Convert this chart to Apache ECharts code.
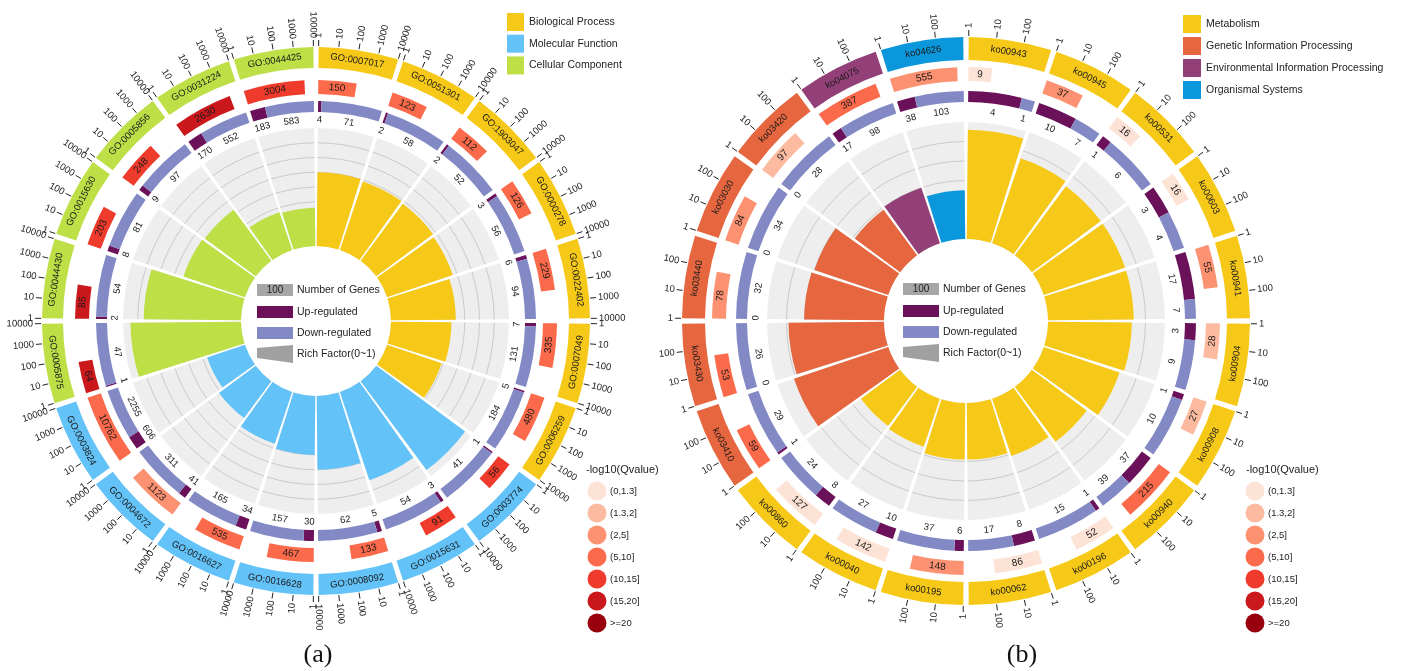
<!DOCTYPE html>
<html>
<head>
<meta charset="utf-8">
<title>GO / KEGG enrichment circle plots</title>
<script src="https://cdn.jsdelivr.net/npm/echarts@6/dist/echarts.min.js"></script>
<style>
  html, body { margin: 0; padding: 0; background: #ffffff; }
  #chart { width: 1406px; height: 671px; }
</style>
</head>
<body>
<div id="chart"></div>
<script>
// ---------- (a) GO enrichment ----------
const goTerms = ['GO:0007017','GO:0051301','GO:1903047','GO:0000278','GO:0022402','GO:0007049','GO:0006259',
                 'GO:0003774','GO:0015631','GO:0008092','GO:0016628','GO:0016627','GO:0004672','GO:0003824',
                 'GO:0005875','GO:0044430','GO:0015630','GO:0005856','GO:0031224','GO:0044425'];
const goClass = [0,0,0,0,0,0,0, 1,1,1,1,1,1,1, 2,2,2,2,2,2];
const goBackground = [150,123,112,126,229,335,480, 56,91,133,467,535,1123,10762, 64,85,203,248,2630,3004];
const goQLevel = [3,3,3,3,3,3,3, 4,4,3,3,3,2,3, 5,5,4,4,5,4];
const goUp = [4,2,2,3,6,7,5, 1,3,5,30,34,41,606, 1,2,8,9,170,183];
const goDown = [71,58,52,56,94,131,184, 41,54,62,157,165,311,2255, 47,54,81,97,552,583];
const goRich = [0.50,0.49,0.48,0.47,0.44,0.41,0.39, 0.75,0.63,0.50,0.40,0.37,0.31,0.27, 0.75,0.66,0.44,0.43,0.27,0.26];
const goTickLabels = ['1','10','100','1000','10000'];
const goClassNames = ['Biological Process','Molecular Function','Cellular Component'];

// ---------- (b) KEGG enrichment ----------
const koTerms = ['ko00943','ko00945','ko00531','ko00603','ko00941','ko00904','ko00908','ko00940','ko00196','ko00062',
                 'ko00195','ko00040','ko00860','ko03410','ko03430','ko03440','ko03030','ko03420','ko04075','ko04626'];
const koClass = [0,0,0,0,0,0,0,0,0,0,0,0,0, 1,1,1,1,1, 2, 3];
const koBackground = [9,37,16,16,55,28,27,215,52,86,148,142,127, 59,53,78,84,97, 387, 555];
const koQLevel = [0,2,0,0,2,1,1,3,0,0,2,0,0, 3,3,2,2,1, 3, 2];
const koUp = [4,10,1,3,17,3,1,37,1,8,6,10,8, 1,0,0,0,0, 17, 38];
const koDown = [1,7,6,4,7,9,10,39,15,17,37,27,24, 29,26,32,34,28, 98, 103];
const koRich = [0.56,0.46,0.44,0.44,0.44,0.43,0.41,0.35,0.31,0.29,0.29,0.26,0.25, 0.51,0.49,0.41,0.40,0.29, 0.30, 0.25];
const koTickLabels = ['1','10','100'];
const koClassNames = ['Metabolism','Genetic Information Processing','Environmental Information Processing','Organismal Systems'];

// ---------- shared legend scales ----------
const qLevelLabels = ['(0,1.3]','(1.3,2]','(2,5]','(5,10]','(10,15]','(15,20]','>=20'];
const centerLegendLabels = ['Number of Genes','Up-regulated','Down-regulated','Rich Factor(0~1)'];

// ---------- colours ----------
const goClassColors = ['#F6C918','#63C2F7','#BEDF46'];
const koClassColors = ['#F6C918','#E5663F','#924077','#0A97DB'];
const qColors = ['#FDE2D6','#FCBBA1','#FC9272','#FB6A4A','#EF3B2C','#CB181D','#99000D'];
const UP_COLOR = '#6A1159';
const DOWN_COLOR = '#8389C5';
const TRACK_BG = '#EEEEEE';
const GRID_COLOR = '#CACACA';
const FONT = 'Liberation Sans';

// Layout of each circle (pixels are styling, values go through the polar axes)
const panels = [
  {
    center: [316, 321], inner: 75, outer: 193, richMax: 0.8, grid: [0.1,0.2,0.3,0.4,0.5,0.6,0.7],
    terms: goTerms, cls: goClass, classColors: goClassColors, bg: goBackground, q: goQLevel,
    up: goUp, down: goDown, rich: goRich, logMax: 4, ticks: goTickLabels,
    band: [253, 274], red: [227, 241], ring: [209, 220], ringLabel: 201
  },
  {
    center: [966, 321], inner: 82, outer: 199, richMax: 0.6, grid: [0.1,0.2,0.3,0.4,0.5],
    terms: koTerms, cls: koClass, classColors: koClassColors, bg: koBackground, q: koQLevel,
    up: koUp, down: koDown, rich: koRich, logMax: 3, ticks: koTickLabels,
    band: [261, 284], red: [240, 254], ring: [219, 230], ringLabel: 210
  }
];

const HALF_GAP = 0.55 / 18;          // half of the gap between sectors, in sector units
function pos(i, f) { return i + HALF_GAP + f * (1 - 2 * HALF_GAP); }

function sect(api, cs, rv0, rv1, a0, a1) {
  const p0 = api.coord([rv0, a0]);
  const p1 = api.coord([rv1, a1]);
  const c0 = -p0[3], c1 = -p1[3];
  return {
    cx: cs.cx, cy: cs.cy,
    r0: Math.min(p0[2], p1[2]), r: Math.max(p0[2], p1[2]),
    startAngle: Math.min(c0, c1), endAngle: Math.max(c0, c1), clockwise: true
  };
}
function theta(m) {
  const t = Math.PI / 2 - m;
  return ((t % (2 * Math.PI)) + 2 * Math.PI) % (2 * Math.PI);
}
// text following the circle, flipped on the lower half so it stays readable
function tangText(api, rv, a, text, size, color) {
  const p = api.coord([rv, a]);
  const m = p[3], th = theta(m);
  const flip = th > Math.PI / 2 + 1e-6 && th < 3 * Math.PI / 2 - 1e-6;
  return {
    type: 'text', x: p[0], y: p[1],
    rotation: flip ? m + Math.PI / 2 : m - Math.PI / 2,
    style: { text: String(text), fill: color || '#1a1a1a', fontSize: size, fontFamily: FONT,
             align: 'center', verticalAlign: 'middle' }
  };
}
// text pointing away from the centre (axis tick labels)
function radText(api, rv, a, text, size) {
  const p = api.coord([rv, a]);
  const m = p[3], th = theta(m);
  const right = th <= Math.PI;
  return {
    type: 'text', x: p[0], y: p[1],
    rotation: right ? m : m + Math.PI,
    style: { text: String(text), fill: '#222', fontSize: size, fontFamily: FONT,
             align: right ? 'left' : 'right', verticalAlign: 'middle' }
  };
}

function richBgItem(P) {
  return function (params, api) {
    const i = params.dataIndex, cs = params.coordSys;
    const a0 = pos(i, 0), a1 = pos(i, 1);
    const children = [{ type: 'sector', shape: sect(api, cs, 0, P.richMax, a0, a1), style: { fill: TRACK_BG } }];
    P.grid.forEach(function (g) {
      const s = sect(api, cs, g, g, a0, a1);
      children.push({ type: 'arc',
        shape: { cx: s.cx, cy: s.cy, r: s.r, startAngle: s.startAngle, endAngle: s.endAngle, clockwise: true },
        style: { stroke: GRID_COLOR, lineWidth: 1, fill: 'none' } });
    });
    return { type: 'group', children: children };
  };
}

function richBarItem(P) {
  return function (params, api) {
    const i = params.dataIndex, cs = params.coordSys;
    return { type: 'sector', shape: sect(api, cs, 0, P.rich[i], pos(i, 0), pos(i, 1)),
             style: { fill: P.classColors[P.cls[i]] } };
  };
}

function outerItem(P) {
  return function (params, api) {
    const i = params.dataIndex, cs = params.coordSys;
    const children = [];
    // category band
    children.push({ type: 'sector', shape: sect(api, cs, P.band[0], P.band[1], pos(i, 0), pos(i, 1)),
                    style: { fill: P.classColors[P.cls[i]] } });
    children.push(tangText(api, (P.band[0] + P.band[1]) / 2, pos(i, 0.5), P.terms[i], 9.5));
    // log axis ticks on the band
    P.ticks.forEach(function (t, k) {
      const a = pos(i, k / P.logMax);
      const q0 = api.coord([P.band[1] + 1, a]), q1 = api.coord([P.band[1] + 7, a]);
      children.push({ type: 'line', shape: { x1: q0[0], y1: q0[1], x2: q1[0], y2: q1[1] },
                      style: { stroke: '#222', lineWidth: 1 } });
      children.push(radText(api, P.band[1] + 9, a, t, 9.5));
    });
    // background gene count bar (log scale), coloured by q-value class
    const len = Math.min(1, Math.log10(P.bg[i]) / P.logMax);
    children.push({ type: 'sector', shape: sect(api, cs, P.red[0], P.red[1], pos(i, 0), pos(i, len)),
                    style: { fill: qColors[P.q[i]] } });
    children.push(tangText(api, (P.red[0] + P.red[1]) / 2, pos(i, len / 2), P.bg[i], 10));
    // up / down regulated split
    const tot = P.up[i] + P.down[i];
    const fu = P.up[i] / tot;
    if (fu > 0) {
      children.push({ type: 'sector', shape: sect(api, cs, P.ring[0], P.ring[1], pos(i, 0), pos(i, fu)),
                      style: { fill: UP_COLOR } });
    }
    children.push({ type: 'sector', shape: sect(api, cs, P.ring[0], P.ring[1], pos(i, fu), pos(i, 1)),
                    style: { fill: DOWN_COLOR } });
    children.push(tangText(api, P.ringLabel, pos(i, Math.max(fu / 2, 0.02)), P.up[i], 9.5));
    children.push(tangText(api, P.ringLabel, pos(i, (fu + 1) / 2), P.down[i], 9.5));
    return { type: 'group', children: children };
  };
}

const polar = [], angleAxis = [], radiusAxis = [], series = [];
const hidden = { axisLine: { show: false }, axisTick: { show: false }, axisLabel: { show: false },
                 splitLine: { show: false }, splitArea: { show: false } };
panels.forEach(function (P, k) {
  const iRich = 2 * k, iOut = 2 * k + 1;
  polar.push({ center: P.center, radius: [P.inner, P.outer] });
  polar.push({ center: P.center, radius: [0, 300] });
  [iRich, iOut].forEach(function (pi) {
    angleAxis.push(Object.assign({ polarIndex: pi, type: 'value', min: 0, max: 20, startAngle: 90, clockwise: true }, hidden));
  });
  radiusAxis.push(Object.assign({ polarIndex: iRich, type: 'value', min: 0, max: P.richMax }, hidden));
  radiusAxis.push(Object.assign({ polarIndex: iOut, type: 'value', min: 0, max: 300 }, hidden));
  const data = P.terms.map(function (t, i) { return [0, i + 0.5]; });
  series.push({ type: 'custom', coordinateSystem: 'polar', polarIndex: iRich, data: data, renderItem: richBgItem(P), silent: true });
  series.push({ type: 'custom', coordinateSystem: 'polar', polarIndex: iRich, data: data, renderItem: richBarItem(P), silent: true });
  series.push({ type: 'custom', coordinateSystem: 'polar', polarIndex: iOut, data: data, renderItem: outerItem(P), silent: true });
});

// ---------- legends ----------
const graphic = [];
function txt(x, y, s, size, extra) {
  return Object.assign({ type: 'text', x: x, y: y, silent: true,
    style: { text: s, fill: '#222', fontSize: size, fontFamily: FONT, align: 'left', verticalAlign: 'middle' } }, extra || {});
}
// class legends
[[goClassNames, goClassColors, 507, 13, 17, 21.7], [koClassNames, koClassColors, 1183, 15, 18, 22]].forEach(function (L) {
  L[0].forEach(function (name, j) {
    const y = L[3] + j * L[5];
    graphic.push({ type: 'rect', silent: true, shape: { x: L[2], y: y, width: L[4], height: 18 }, style: { fill: L[1][j] } });
    graphic.push(txt(L[2] + L[4] + 5, y + 9, name, 10.5));
  });
});
// q-value legends
[[586, 597], [1246, 1255]].forEach(function (L) {
  graphic.push(txt(L[0], 470, '-log10(Qvalue)', 11));
  qLevelLabels.forEach(function (s, j) {
    const y = 491 + j * 22;
    graphic.push({ type: 'circle', silent: true, shape: { cx: L[1], cy: y, r: 9.5 }, style: { fill: qColors[j] } });
    graphic.push(txt(L[1] + 13, y, s, 9.5));
  });
});
// centre legends
[[257, 290], [903, 289]].forEach(function (L) {
  const x = L[0], y0 = L[1], w = 36;
  graphic.push({ type: 'rect', silent: true, shape: { x: x, y: y0 - 6, width: w, height: 12 }, style: { fill: '#A6A6A6' } });
  graphic.push({ type: 'text', silent: true, x: x + w / 2, y: y0,
                 style: { text: '100', fill: '#222', fontSize: 10, fontFamily: FONT, align: 'center', verticalAlign: 'middle' } });
  graphic.push({ type: 'rect', silent: true, shape: { x: x, y: y0 + 16, width: w, height: 12 }, style: { fill: UP_COLOR } });
  graphic.push({ type: 'rect', silent: true, shape: { x: x, y: y0 + 37, width: w, height: 12 }, style: { fill: DOWN_COLOR } });
  graphic.push({ type: 'polygon', silent: true,
                 shape: { points: [[x, y0 + 58], [x + w, y0 + 55], [x + w, y0 + 73], [x, y0 + 68]] },
                 style: { fill: '#A0A0A0' } });
  centerLegendLabels.forEach(function (s, j) {
    graphic.push(txt(x + w + 4, y0 + [0, 22, 43, 64][j], s, 10.5));
  });
});
// panel tags
graphic.push({ type: 'text', silent: true, x: 318, y: 655,
               style: { text: '(a)', fill: '#111', fontSize: 26, fontFamily: 'Liberation Serif', align: 'center', verticalAlign: 'middle' } });
graphic.push({ type: 'text', silent: true, x: 1022, y: 655,
               style: { text: '(b)', fill: '#111', fontSize: 26, fontFamily: 'Liberation Serif', align: 'center', verticalAlign: 'middle' } });

const chart = echarts.init(document.getElementById('chart'), null, { renderer: 'canvas' });
chart.setOption({
  animation: false,
  backgroundColor: '#ffffff',
  polar: polar,
  angleAxis: angleAxis,
  radiusAxis: radiusAxis,
  series: series,
  graphic: graphic
});
</script>
</body>
</html>
